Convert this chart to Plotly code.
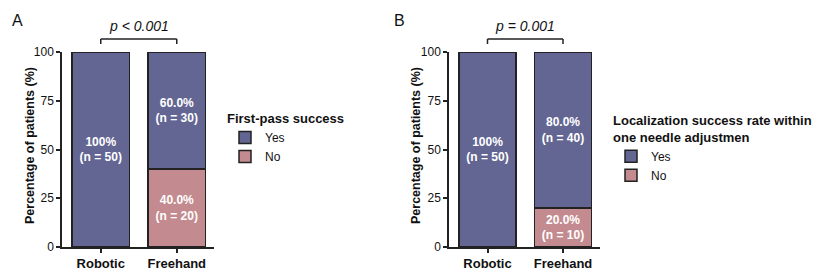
import plotly.graph_objects as go

categories = ["Robotic", "Freehand"]
# Panel A: first-pass success
a_yes_pct = [100.0, 60.0]
a_no_pct = [0.0, 40.0]
a_yes_n = [50, 30]
a_no_n = [0, 20]
# Panel B: localization success within one needle adjustment
b_yes_pct = [100.0, 80.0]
b_no_pct = [0.0, 20.0]
b_yes_n = [50, 40]
b_no_n = [0, 10]

yticks = [0, 25, 50, 75, 100]
p_labels = ["<i>p &lt; 0.001</i>", "<i>p = 0.001</i>"]
legend_titles = ["First-pass success", "Localization success rate within<br>one needle adjustmen"]
y_title = "Percentage of patients (%)"

YES_C = "#636693"
NO_C = "#c38b8f"
LINE_C = "#222222"
FONT = "Liberation Sans, Arial, sans-serif"


def fmt(p, n):
    if n == 0:
        return ""
    s = "100%" if p == 100 else f"{p:.1f}%"
    return f"<b>{s}<br>(n = {n})</b>"


fig = go.Figure()
panels = [
    (a_no_pct, a_no_n, a_yes_pct, a_yes_n, "x", "y", "legend"),
    (b_no_pct, b_no_n, b_yes_pct, b_yes_n, "x2", "y2", "legend2"),
]
for no_p, no_n, yes_p, yes_n, xa, ya, lg in panels:
    fig.add_trace(go.Bar(
        x=categories, y=no_p, name="No", marker=dict(color=NO_C, line=dict(color=LINE_C, width=1.5)),
        text=[fmt(p, n) for p, n in zip(no_p, no_n)], textposition="inside", insidetextanchor="middle",
        textfont=dict(color="white", size=12, family=FONT), width=0.76, xaxis=xa, yaxis=ya, legend=lg,
        legendrank=2))
    fig.add_trace(go.Bar(
        x=categories, y=yes_p, name="Yes", marker=dict(color=YES_C, line=dict(color=LINE_C, width=1.5)),
        text=[fmt(p, n) for p, n in zip(yes_p, yes_n)], textposition="inside", insidetextanchor="middle",
        textfont=dict(color="white", size=12, family=FONT), width=0.76, xaxis=xa, yaxis=ya, legend=lg,
        legendrank=1))

W, H = 830, 274
def px(x):
    return x / W
def py(y):
    return 1 - y / H

axis_common = dict(showline=True, linecolor=LINE_C, linewidth=1.5, ticks="outside", tickcolor=LINE_C,
                   ticklen=4, tickwidth=1.5, showgrid=False, zeroline=False, automargin=False)
xcommon = dict(axis_common, range=[-0.51, 1.49], tickfont=dict(size=13, family=FONT, color="#111"),
               type="category")
ycommon = dict(axis_common, range=[0, 100], tickvals=yticks, tickfont=dict(size=12, family=FONT, color="#111"))

fig.update_layout(
    width=W, height=H, margin=dict(l=0, r=0, t=0, b=0, autoexpand=False),
    paper_bgcolor="white", plot_bgcolor="white", barmode="stack", showlegend=True,
    font=dict(family=FONT, color="#111"),
    xaxis=dict(xcommon, domain=[px(62), px(214)], anchor="y", tickvals=categories,
               ticktext=[f"<b>{c}</b>" for c in categories]),
    yaxis=dict(ycommon, domain=[py(247), py(52)], anchor="x"),
    xaxis2=dict(xcommon, domain=[px(449), px(600)], anchor="y2", tickvals=categories,
                ticktext=[f"<b>{c}</b>" for c in categories]),
    yaxis2=dict(ycommon, domain=[py(247), py(52)], anchor="x2"),
    legend=dict(x=px(225), y=py(106), xanchor="left", yanchor="top", traceorder="normal",
                title=dict(text=f"<b>{legend_titles[0]}</b>", font=dict(size=13, family=FONT)),
                font=dict(size=12, family=FONT), itemwidth=30, tracegroupgap=0, bgcolor="rgba(0,0,0,0)"),
    legend2=dict(x=px(611), y=py(108), xanchor="left", yanchor="top", traceorder="normal",
                 title=dict(text=f"<b>{legend_titles[1]}</b>", font=dict(size=13, family=FONT)),
                 font=dict(size=12, family=FONT), itemwidth=30, tracegroupgap=0, bgcolor="rgba(0,0,0,0)"),
)

for i, (xa, lab) in enumerate([("x", p_labels[0]), ("x2", p_labels[1])]):
    for seg in [
        (categories[0], py(44), categories[0], py(39)),
        (categories[0], py(39), categories[1], py(39)),
        (categories[1], py(39), categories[1], py(44)),
    ]:
        fig.add_shape(type="line", xref=xa, yref="paper", x0=seg[0], y0=seg[1], x1=seg[2], y1=seg[3],
                      line=dict(color=LINE_C, width=1.5))
    fig.add_annotation(xref=xa, yref="paper", x=0.5, y=py(26), text=lab, showarrow=False,
                       font=dict(size=14, family=FONT, color="#111"), yanchor="middle")

for xpix in (30, 416):
    fig.add_annotation(xref="paper", yref="paper", x=px(xpix), y=py(146), text=f"<b>{y_title}</b>",
                       textangle=-90, showarrow=False, xanchor="center", yanchor="middle",
                       font=dict(size=12.5, family=FONT, color="#111"))

fig.add_annotation(xref="paper", yref="paper", x=px(10), y=py(20), text="A", showarrow=False,
                   xanchor="left", yanchor="middle", font=dict(size=16, family=FONT, color="#111"))
fig.add_annotation(xref="paper", yref="paper", x=px(392), y=py(20), text="B", showarrow=False,
                   xanchor="left", yanchor="middle", font=dict(size=16, family=FONT, color="#111"))

fig.write_html("out.html")
